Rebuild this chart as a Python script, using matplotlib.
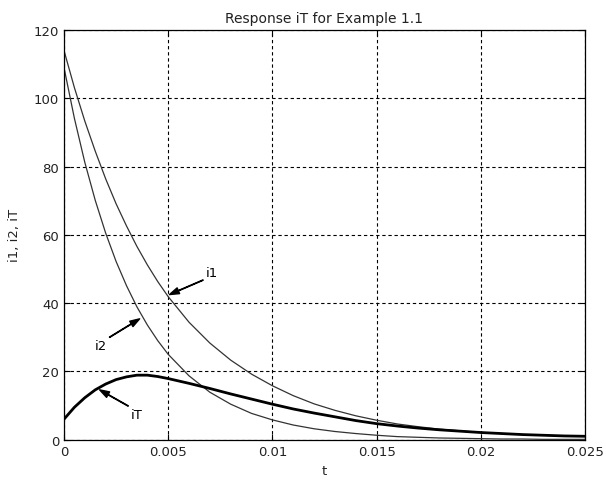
import matplotlib
matplotlib.use('Agg')
import matplotlib.pyplot as plt
from matplotlib.ticker import FuncFormatter

plt.rcParams['font.family'] = ['DejaVu Sans']

# values
t = [0, 0.0005, 0.001, 0.0015, 0.002, 0.0025, 0.003, 0.0035, 0.004, 0.0045,
     0.005, 0.006, 0.007, 0.008, 0.009, 0.010, 0.011, 0.012, 0.013, 0.014,
     0.015, 0.016, 0.017, 0.018, 0.019, 0.020, 0.021, 0.022, 0.023, 0.024, 0.025]
i1 = [114.0, 103.1, 93.3, 84.5, 76.4, 69.1, 62.6, 56.6, 51.2, 46.3,
      41.9, 34.4, 28.3, 23.3, 19.2, 15.8, 12.9, 10.5, 8.6, 7.0,
      5.7, 4.6, 3.8, 3.1, 2.6, 2.1, 1.8, 1.5, 1.3, 1.1, 1.0]
i2 = [109.0, 94.1, 81.2, 70.1, 60.5, 52.2, 45.1, 38.9, 33.6, 29.0,
      25.0, 18.7, 13.9, 10.4, 7.7, 5.8, 4.3, 3.2, 2.4, 1.8,
      1.3, 0.9, 0.7, 0.5, 0.4, 0.3, 0.2, 0.2, 0.1, 0.1, 0.1]
iT = [6.0, 9.5, 12.3, 14.6, 16.3, 17.6, 18.4, 18.9, 18.9, 18.5,
      17.9, 16.5, 15.0, 13.4, 11.9, 10.4, 9.0, 7.8, 6.7, 5.6,
      4.7, 4.0, 3.4, 2.9, 2.5, 2.1, 1.8, 1.5, 1.3, 1.1, 1.0]

xticks = [0, 0.005, 0.01, 0.015, 0.02, 0.025]
yticks = [0, 20, 40, 60, 80, 100, 120]

fig = plt.figure(figsize=(6.06, 4.81), dpi=100)
ax = fig.add_axes([0.1056, 0.0838, 0.8597, 0.8518])

ax.plot(t, i1, color='#333333', lw=0.9)
ax.plot(t, i2, color='#333333', lw=0.9)
ax.plot(t, iT, color='black', lw=2.0)

ax.set_xlim(0, 0.025)
ax.set_ylim(0, 120)
ax.set_xticks(xticks)
ax.set_yticks(yticks)
ax.xaxis.set_major_formatter(FuncFormatter(lambda v, p: '%g' % round(v, 4)))
ax.grid(True, color='black', linestyle=(0, (3, 2.5)), lw=0.8)
ax.tick_params(direction='in', top=True, right=True, labelsize=9.5, length=4,
               labelcolor='#222222')
for s in ax.spines.values():
    s.set_linewidth(0.9)

ax.set_title('Response iT for Example 1.1', fontsize=10, pad=6, color='#222222')
ax.set_xlabel('t', fontsize=9.5, labelpad=5, color='#222222')
ax.set_ylabel('i1, i2, iT', fontsize=9.5, labelpad=9, color='#222222')

arrow = dict(facecolor='black', edgecolor='black', width=0.3, headwidth=4.5,
             headlength=7, shrink=0)
ax.annotate('i1', xy=(0.00506, 42.5), xytext=(0.0071, 49), fontsize=9.5,
            ha='center', va='center', arrowprops=arrow)
ax.annotate('i2', xy=(0.00363, 35.4), xytext=(0.00176, 27.6), fontsize=9.5,
            ha='center', va='center', arrowprops=arrow)
ax.annotate('iT', xy=(0.00171, 14.6), xytext=(0.0035, 7.5), fontsize=9.5,
            ha='center', va='center', arrowprops=arrow)

fig.savefig('out.png', dpi=100)
